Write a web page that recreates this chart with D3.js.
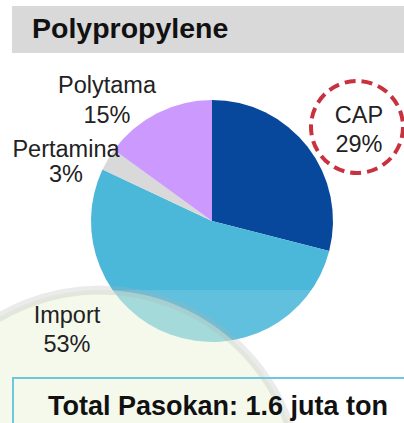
<!DOCTYPE html>
<html>
<head>
<meta charset="utf-8">
<script src="https://cdn.jsdelivr.net/npm/d3@7"></script>
<style>
  html, body { margin: 0; padding: 0; background: #fff; }
  svg { display: block; font-family: "Liberation Sans", Arial, sans-serif; }
</style>
</head>
<body>
<div id="chart"></div>
<script>
// data
const suppliers = ["CAP", "Import", "Pertamina", "Polytama"];
const shares = [29, 53, 3, 15];
const title = "Polypropylene";
const totalText = "Total Pasokan: 1.6 juta ton";

const width = 404;
const height = 423;

// colours per slice
const color = d3.scaleOrdinal()
  .domain(suppliers)
  .range(["#07479c", "#4bb8d9", "#d9d9d9", "#cc99ff"]);

// label anchors (layout only): x, y of name, y of percent
const labelPos = {
  "CAP": [359, 123, 152],
  "Import": [67, 323, 352],
  "Pertamina": [66, 157, 182],
  "Polytama": [107, 93, 123]
};

const svg = d3.select("#chart")
  .append("svg")
  .attr("width", width)
  .attr("height", height);

// title bar
svg.append("rect")
  .attr("x", 12).attr("y", 6)
  .attr("width", width - 12).attr("height", 47)
  .attr("fill", "#d9d9d9");

svg.append("text")
  .attr("x", 32).attr("y", 38)
  .attr("font-size", 28.5)
  .attr("font-weight", "bold")
  .attr("fill", "#111")
  .text(title);

// pie
const cx = 212, cy = 221, r = 121;
const pie = d3.pie().sort(null).value(d => d.value);
const arc = d3.arc().innerRadius(0).outerRadius(r);

const slices = pie(suppliers.map((s, i) => ({ name: s, value: shares[i] })));

const g = svg.append("g").attr("transform", `translate(${cx},${cy})`);
g.selectAll("path")
  .data(slices)
  .enter()
  .append("path")
  .attr("d", arc)
  .attr("fill", d => color(d.data.name));

// faint watermark over lower part
const wm = svg.append("g");
wm.append("rect")
  .attr("x", 0).attr("y", 290)
  .attr("width", width).attr("height", height - 290)
  .attr("fill", "#fff").attr("opacity", 0.12);
wm.append("circle")
  .attr("cx", 100).attr("cy", 490).attr("r", 200)
  .attr("fill", "#e9f4da").attr("opacity", 0.5);
wm.append("circle")
  .attr("cx", 100).attr("cy", 490).attr("r", 200)
  .attr("fill", "none")
  .attr("stroke", "#b0b0b0").attr("stroke-width", 9)
  .attr("opacity", 0.25);

// labels
slices.forEach(d => {
  const [x, y1, y2] = labelPos[d.data.name];
  const t = svg.append("text")
    .attr("text-anchor", "middle")
    .attr("font-size", 23.5)
    .attr("fill", "#222");
  t.append("tspan").attr("x", x).attr("y", y1).text(d.data.name);
  t.append("tspan").attr("x", x).attr("y", y2).text(d.data.value + "%");
});

// dashed highlight round CAP
svg.append("circle")
  .attr("cx", 357).attr("cy", 127).attr("r", 46)
  .attr("fill", "none")
  .attr("stroke", "#c8323f")
  .attr("stroke-width", 4)
  .attr("stroke-dasharray", "11,6");

// total box
svg.append("rect")
  .attr("x", 13).attr("y", 378)
  .attr("width", width).attr("height", 60)
  .attr("fill", "none")
  .attr("stroke", "#6ec6df")
  .attr("stroke-width", 2);

svg.append("text")
  .attr("x", 48).attr("y", 415)
  .attr("font-size", 27)
  .attr("font-weight", "bold")
  .attr("fill", "#111")
  .text(totalText);
</script>
</body>
</html>
